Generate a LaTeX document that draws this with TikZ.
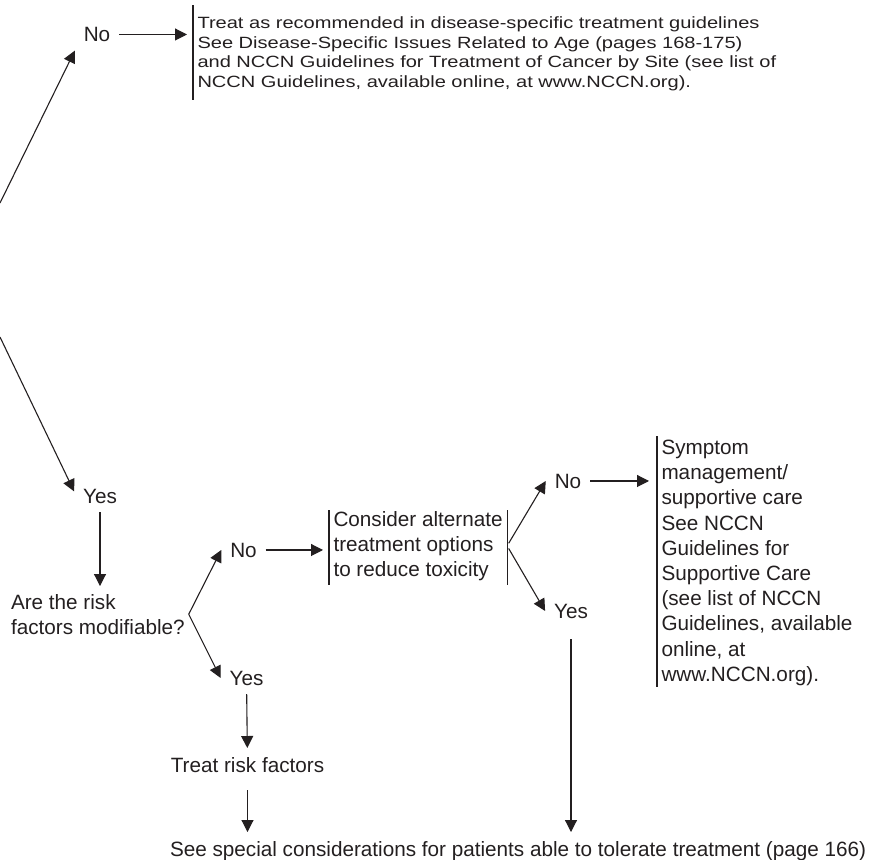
\documentclass[tikz,border=0pt]{standalone}
\usepackage{fontspec}
\setmainfont{Liberation Sans}
\newfontfamily\squeezed[FakeStretch=1.23]{Liberation Sans}
\usetikzlibrary{arrows.meta}
\definecolor{ink}{HTML}{231F20}

\begin{document}
\begin{tikzpicture}[x=0.5pt,y=-0.5pt,line width=0.55pt,color=ink,
    font=\fontsize{10.35pt}{12.6pt}\selectfont,
    flow/.style={-{Triangle[length=6pt,width=6pt]}},
    lbl/.style={inner sep=0pt,outer sep=4.5pt,anchor=base},
    block/.style={inner xsep=2.25pt,inner ysep=0pt,outer sep=0pt,align=left,anchor=north west}]
  \useasboundingbox (0,0) rectangle (885,859);
  \coordinate (forkA) at (0,203);
  \coordinate (forkB) at (0,337);
  \node[lbl] (noA) at (97,41.5) {No};
  \node[block,font=\squeezed\fontsize{8.15pt}{9.7pt}\selectfont] (treat) at (193,17)
    {Treat as recommended in disease-specific treatment guidelines\\
     See Disease-Specific Issues Related to Age (pages 168-175)\\
     and NCCN Guidelines for Treatment of Cancer by Site (see list of\\
     NCCN Guidelines, available online, at www.NCCN.org).};
  \node[lbl] (yesA) at (100,503) {Yes};
  \node[block,inner xsep=0pt,outer xsep=2pt,outer ysep=4pt] (ask) at (7,586)
    {Are the risk\\factors modifiable?};
  \node[lbl] (noB) at (243.5,557) {No};
  \node[lbl] (yesB) at (246.5,685) {Yes};
  \node[block] (consider) at (329,511)
    {Consider alternate\\treatment options\\to reduce toxicity};
  \node[lbl] (noC) at (568,488) {No};
  \node[lbl] (yesC) at (571,618) {Yes};
  \node[block] (symptom) at (657,440)
    {Symptom\\management/\\supportive care\\See NCCN\\Guidelines for\\Supportive Care\\
     (see list of NCCN\\Guidelines, available\\online, at\\www.NCCN.org).};
  \node[lbl] (riskfix) at (247.5,772) {Treat risk factors};
  \node[lbl,anchor=base west] (special) at (161,856)
    {See special considerations for patients able to tolerate treatment (page 166)};

  \draw ([yshift=6pt]treat.north west) -- ([yshift=-4.8pt]treat.south west);
  \draw ([yshift=0.5pt]consider.north west) -- ([yshift=-2pt]consider.south west);
  \draw ([yshift=0.5pt]consider.north east) -- ([yshift=-2pt]consider.south east);
  \draw ([yshift=2pt]symptom.north west) -- ([yshift=-0.8pt]symptom.south west);

  \draw[flow] (forkA) -- (noA.south west);
  \draw[flow] (forkB) -- (yesA.170);
  \draw[flow,shorten >=3pt] (noA) -- (noA -| treat.west);
  \draw[flow] (yesA) -- (yesA |- ask.north);
  \draw[flow] (ask.east) -- (noB.west);
  \draw[flow] (ask.east) -- (yesB.west);
  \draw[flow,shorten >=3pt] (noB) -- (noB -| consider.west);
  \draw[flow,shorten <=1.5pt] (consider.east) -- (noC.west);
  \draw[flow,shorten <=1.5pt] (consider.east) -- (yesC.west);
  \draw[flow,shorten >=4pt] (noC) -- (noC -| symptom.west);
  \draw[flow] (yesB) -- (riskfix);
  \draw[flow,shorten <=4.5pt] (riskfix) -- (riskfix |- special.north);
  \draw[flow,shorten <=6pt] (yesC) -- (yesC |- special.north);
\end{tikzpicture}
\end{document}
